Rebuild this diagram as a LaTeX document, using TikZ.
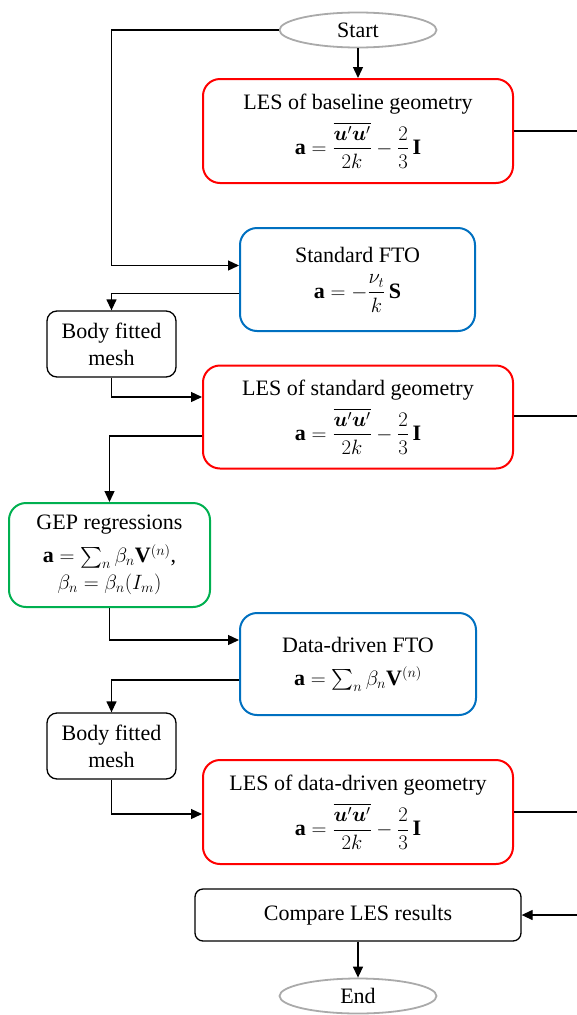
\documentclass[tikz,border=0pt]{standalone}
\usepackage{amsmath}
\usepackage{bm}
\usepackage{fontspec}
\setmainfont{Liberation Serif}
\usetikzlibrary{arrows.meta,shapes.geometric}
\definecolor{lesred}{RGB}{255,0,0}
\definecolor{ftoblue}{RGB}{0,112,192}
\definecolor{gepgreen}{RGB}{0,176,80}
\definecolor{termgray}{RGB}{170,170,170}
\tikzset{
  base/.style={rectangle, align=center, inner sep=2pt,
    font=\fontsize{22}{27}\selectfont},
  lesbox/.style={base, draw=lesred, line width=2pt, rounded corners=17pt,
    minimum width=310pt, minimum height=104pt},
  ftobox/.style={base, draw=ftoblue, line width=2pt, rounded corners=17pt,
    minimum width=235pt, minimum height=103pt},
  gepbox/.style={base, draw=gepgreen, line width=2pt, rounded corners=17pt,
    minimum width=201pt, minimum height=104pt},
  meshbox/.style={base, draw=black, line width=1.3pt, rounded corners=10pt,
    minimum width=129pt, minimum height=66pt},
  cmpbox/.style={base, draw=black, line width=1.3pt, rounded corners=8pt,
    minimum width=326pt, minimum height=52pt},
  term/.style={ellipse, draw=termgray, line width=1.8pt, inner sep=0pt,
    minimum width=157pt, minimum height=35pt,
    font=\fontsize{22}{27}\selectfont},
  link/.style={line width=1.3pt},
  arr/.style={link, -{Triangle[length=11pt,width=10pt]}},
}
\newcommand{\lesformula}{$\displaystyle \mathbf{a}=\frac{\overline{\bm{u}'\bm{u}'}}{2k}-\frac{2}{3}\,\mathbf{I}$}
\begin{document}
\begin{tikzpicture}[x=1pt,y=-1pt]
\useasboundingbox (0,0) rectangle (577,1015);
\coordinate (rim) at (577,0);

% terminals
\node[term] (start) at (358,30) {Start};
\node[term] (end) at (358,996) {End};

% process boxes
\node[lesbox] (les1) at (358,131) {LES of baseline geometry\\[7pt] \lesformula};
\node[ftobox] (fto1) at (357.5,279.5) {Standard FTO\\[9pt] $\displaystyle \mathbf{a}=-\frac{\nu_t}{k}\,\mathbf{S}$};
\node[meshbox] (mesh1) at (111.5,344) {Body fitted\\mesh};
\node[lesbox, minimum height=103pt] (les2) at (358,417) {LES of standard geometry\\[7pt] \lesformula};
\node[gepbox] (gep) at (109.5,555) {GEP regressions\\[6pt] $\mathbf{a}=\sum_n \beta_n \mathbf{V}^{(n)}$,\\ $\beta_n=\beta_n(I_m)$};
\node[ftobox, minimum width=236pt, minimum height=102pt] (fto2) at (358,664) {Data-driven FTO\\[6pt] $\mathbf{a}=\sum_n \beta_n \mathbf{V}^{(n)}$};
\node[meshbox] (mesh2) at (111.5,746) {Body fitted\\mesh};
\node[lesbox] (les3) at (358,812) {LES of data-driven geometry\\[7pt] \lesformula};
\node[cmpbox] (cmp) at (358,915) {Compare LES results};

% connectors
\draw[arr] (start.south) -- (les1.north);
\draw[arr] (start.west) -| ([yshift=14pt]fto1.west -| mesh1.north) -- ([yshift=14pt]fto1.west);
\draw[arr] ([yshift=-14pt]fto1.west) -| (mesh1.north);
\draw[arr] (mesh1.south) |- ([yshift=20pt]les2.west);
\draw[arr] ([yshift=-19pt]les2.west) -| (gep.north);
\draw[arr] (gep.south) |- ([yshift=24pt]fto2.west);
\draw[arr] ([yshift=-16pt]fto2.west) -| (mesh2.north);
\draw[arr] (mesh2.south) |- ([yshift=-2pt]les3.west);
\draw[arr] (cmp.south) -- (end.north);

% lines leading off to the right margin
\draw[link] (les1.east) -- (les1.east -| rim);
\draw[link] ([yshift=1pt]les2.east) -- ([yshift=1pt]les2.east -| rim);
\draw[link] (les3.east) -- (les3.east -| rim);
\draw[arr] (cmp.east -| rim) -- (cmp.east);
\end{tikzpicture}
\end{document}
